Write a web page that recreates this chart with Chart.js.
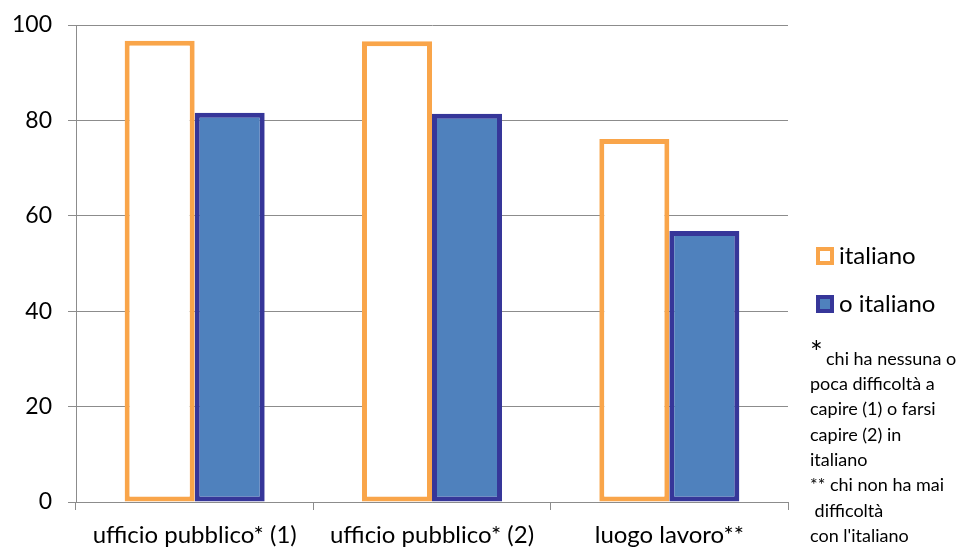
<!DOCTYPE html>
<html>
<head>
<meta charset="utf-8">
<script src="https://cdn.jsdelivr.net/npm/chart.js@4/dist/chart.umd.min.js"></script>
<style>
  html, body { margin: 0; padding: 0; background: #fff; }
  #wrap { width: 972px; height: 551px; position: relative; }
</style>
</head>
<body>
<div id="wrap"><canvas id="c" width="972" height="551"></canvas></div>
<script>
const categories = ['ufficio pubblico* (1)', 'ufficio pubblico* (2)', 'luogo lavoro**'];
const seriesNames = ['italiano', 'o italiano'];
const italiano = [96.7, 96.6, 76.1];
const nonItaliano = [81.6, 81.4, 56.8];
const yTicks = [0, 20, 40, 60, 80, 100];
const notes = [
  ['*', 'chi ha nessuna o'],
  ['', 'poca difficoltà a'],
  ['', 'capire (1) o farsi'],
  ['', 'capire (2) in'],
  ['', 'italiano'],
  ['', '** chi non ha mai'],
  ['', ' difficoltà'],
  ['', "con l'italiano"]
];

const FONT = 'Lato, "Open Sans", sans-serif';
const ORANGE = '#F9A54A';
const BLUE_FILL = '#4F81BD';
const BLUE_EDGE = '#363699';

// Legend and footnotes drawn in the right margin
const sideText = {
  id: 'sideText',
  afterDraw(chart) {
    const ctx = chart.ctx;
    ctx.save();
    const items = [
      { fill: '#ffffff', edge: ORANGE, y: 256, label: seriesNames[0] },
      { fill: BLUE_FILL, edge: BLUE_EDGE, y: 304, label: seriesNames[1] }
    ];
    items.forEach(it => {
      ctx.fillStyle = it.fill;
      ctx.strokeStyle = it.edge;
      ctx.lineWidth = 4;
      ctx.fillRect(818, it.y - 7, 14, 14);
      ctx.strokeRect(818, it.y - 7, 14, 14);
      ctx.fillStyle = '#000';
      ctx.font = '24px ' + FONT;
      ctx.textBaseline = 'middle';
      ctx.textAlign = 'left';
      ctx.fillText(it.label, 839, it.y);
    });
    let y = 359;
    notes.forEach(([mark, text]) => {
      ctx.fillStyle = '#000';
      ctx.textBaseline = 'middle';
      let x = 810;
      if (mark) {
        ctx.font = '30px ' + FONT;
        ctx.fillText(mark, x, y - 6);
        x += 16;
      }
      ctx.font = '18px ' + FONT;
      ctx.fillText(text, x, y);
      y += 25.3;
    });
    ctx.restore();
  }
};

new Chart(document.getElementById('c'), {
  type: 'bar',
  data: {
    labels: categories,
    datasets: [
      {
        label: seriesNames[0],
        data: italiano,
        backgroundColor: '#ffffff',
        borderColor: ORANGE,
        borderWidth: 5,
        borderSkipped: false
      },
      {
        label: seriesNames[1],
        data: nonItaliano,
        backgroundColor: BLUE_FILL,
        borderColor: BLUE_EDGE,
        borderWidth: 5,
        borderSkipped: false
      }
    ]
  },
  options: {
    responsive: false,
    animation: false,
    devicePixelRatio: 1,
    layout: { padding: { top: 25, right: 184, left: 0, bottom: 3 } },
    datasets: { bar: { barPercentage: 1.0, categoryPercentage: 0.59 } },
    plugins: { legend: { display: false }, tooltip: { enabled: false } },
    scales: {
      x: {
        afterFit(axis) { axis.height = 46; axis.paddingLeft = 0; axis.paddingRight = 0; },
        grid: { display: true, drawOnChartArea: false, offset: true, color: '#8c8c8c', tickLength: 8 },
        border: { color: '#8c8c8c', width: 1 },
        ticks: { color: '#000', font: { family: FONT, size: 24, lineHeight: 1.0 }, padding: 13 }
      },
      y: {
        min: 0, max: 100,
        afterBuildTicks(axis) { axis.ticks = yTicks.map(v => ({ value: v })); },
        afterFit(axis) { axis.width = 76; axis.paddingTop = 0; axis.paddingBottom = 0; },
        grid: { color: '#8c8c8c', tickLength: 8 },
        border: { color: '#8c8c8c', width: 1 },
        ticks: { color: '#000', font: { family: FONT, size: 23 }, padding: 16 }
      }
    }
  },
  plugins: [sideText]
});
</script>
</body>
</html>
